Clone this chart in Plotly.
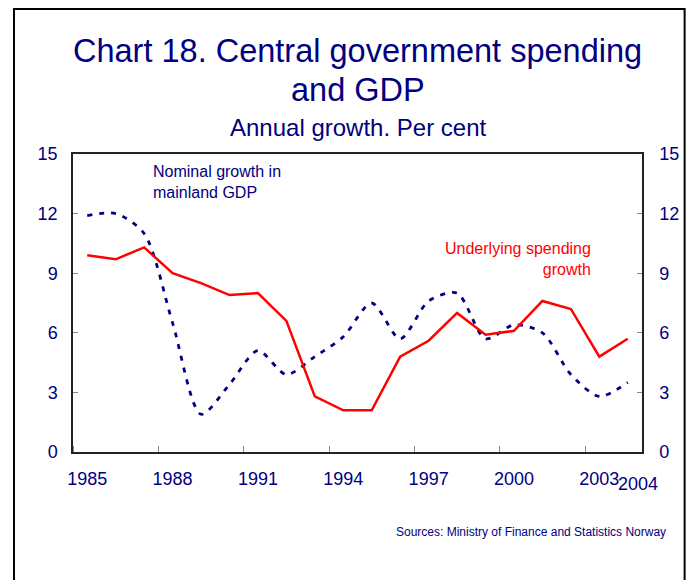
import plotly.graph_objects as go

years = list(range(1985, 2005))
spending = [9.9, 9.7, 10.3, 9.0, 8.5, 7.9, 8.0, 6.6, 2.8, 2.1,
            2.1, 4.8, 5.6, 7.0, 5.9, 6.1, 7.6, 7.2, 4.8, 5.7]
gdp = [11.9, 12.0, 11.0, 6.5, 1.9, 3.4, 5.1, 3.9, 4.8, 5.8,
       7.5, 5.7, 7.6, 8.0, 5.7, 6.4, 6.0, 3.9, 2.8, 3.5]
x_labels = [1985, 1988, 1991, 1994, 1997, 2000, 2003]
y_ticks = [0, 3, 6, 9, 12, 15]

NAVY = "#000080"
FONT = "Liberation Sans"

fig = go.Figure()

fig.add_trace(go.Scatter(
    x=years, y=gdp, mode="lines",
    line=dict(color=NAVY, width=2.8, dash="5px,7px", shape="spline", smoothing=0.8),
    hoverinfo="skip"))

fig.add_trace(go.Scatter(
    x=years, y=spending, mode="lines", yaxis="y2",
    line=dict(color="#ff0000", width=2.5),
    hoverinfo="skip"))

axis_line = dict(showline=True, linecolor="#222222", linewidth=1.5, showgrid=False, zeroline=False)

# the page body adds an 8px margin; keep the figure small enough to avoid scrollbars
fig.update_layout(
    width=683, height=572,
    margin=dict(l=65, r=44, t=146, b=128),
    paper_bgcolor="white", plot_bgcolor="white",
    showlegend=False,
    font=dict(family=FONT, color=NAVY, size=18),
    xaxis=dict(range=[1984.5, 2004.5], tickmode="array", tickvals=x_labels,
               ticks="", ticklabelstandoff=10, mirror=True,
               minor=dict(tick0=1987.5, dtick=3, ticks="inside", ticklen=6,
                          tickcolor="#888888", tickwidth=1),
               **axis_line),
    yaxis=dict(range=[0, 15], tickmode="array", tickvals=y_ticks,
               ticks="inside", ticklen=5, tickcolor="#888888",
               ticklabelstandoff=10, mirror=True, **axis_line),
    yaxis2=dict(range=[0, 15], tickmode="array", tickvals=y_ticks,
                overlaying="y", side="right",
                ticks="inside", ticklen=5, tickcolor="#888888",
                ticklabelstandoff=12, **axis_line),
)

annotations = [
    dict(text="Chart 18. Central government spending", x=0.5, y=1.3456,
         font=dict(size=32.5)),
    dict(text="and GDP", x=0.5, y=1.2148, font=dict(size=32.5)),
    dict(text="Annual growth. Per cent", x=0.5, y=1.0906, font=dict(size=24)),
    dict(text="Nominal growth in<br>mainland GDP", x=0.1376, y=0.9077,
         xanchor="left", align="left", font=dict(size=16)),
    dict(text="Underlying spending<br>growth", x=0.9146, y=0.646,
         xanchor="right", align="right", font=dict(size=16, color="#ff0000")),
    dict(text="Sources: Ministry of Finance and Statistics Norway", x=1.0453, y=-0.2685,
         xanchor="right", font=dict(size=12)),
]
for a in annotations:
    a.setdefault("xanchor", "center")
    fig.add_annotation(xref="paper", yref="paper", yanchor="middle", showarrow=False, **a)

fig.add_annotation(text="2004", x=2004.35, xref="x", y=-0.107, yref="paper",
                   showarrow=False, yanchor="middle", font=dict(size=18))

fig.add_shape(type="rect", xref="paper", yref="paper",
              x0=-0.1037, x1=1.0749, y0=-0.6, y1=1.4866,
              line=dict(color="black", width=2), layer="above")

fig.write_html("out.html")
